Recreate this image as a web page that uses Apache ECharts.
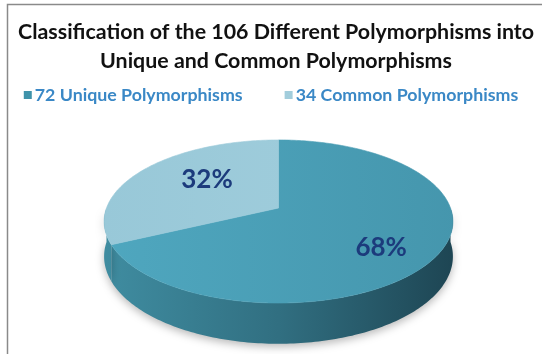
<!DOCTYPE html>
<html>
<head>
<meta charset="utf-8">
<title>Polymorphism classification</title>
<script src="https://cdn.jsdelivr.net/npm/echarts@6/dist/echarts.min.js"></script>
<style>
  html, body { margin: 0; padding: 0; background: #ffffff; }
  #chart { width: 542px; height: 354px; }
</style>
</head>
<body>
<div id="chart"></div>
<script>
// Polymorphism groups and how many of each were found
const categories = ['Unique Polymorphisms', 'Common Polymorphisms'];
const counts = [72, 34];

const total = counts.reduce((a, b) => a + b, 0);

// Tilted-disc projection used to draw the pie in 3D
const CX = 278.5, CY = 208;   // projected centre of the top face
const R = 172, B = 79.3;       // horizontal / depth radii
const D = 6.04;                // perspective distance (in radii)
const H = 34;                  // thickness of the disc

const topFill = [
  { type: 'linear', x: 100, y: 0, x2: 460, y2: 0, global: true,
    colorStops: [{ offset: 0, color: '#4fa7bf' }, { offset: 1, color: '#4596ad' }] },
  { type: 'linear', x: 100, y: 0, x2: 460, y2: 0, global: true,
    colorStops: [{ offset: 0, color: '#98c8d8' }, { offset: 1, color: '#a3cfdd' }] }
];
const sideFill = { type: 'linear', x: CX - R, y: 0, x2: CX + R, y2: 0, global: true,
  colorStops: [
    { offset: 0, color: '#3f8ca0' },
    { offset: 0.5, color: '#316f81' },
    { offset: 1, color: '#1e4654' }
  ] };
const legendColors = ['#3f93aa', '#a2cddc'];

function project(theta, depth, frac) {
  const f = frac === undefined ? 1 : frac;
  const u = Math.sin(theta) * f, w = -Math.cos(theta) * f;
  const s = D / (D - w);
  return [CX + R * u * s, CY + (B * w + depth) * s];
}

function arc(a0, a1, depth) {
  const pts = [];
  const n = Math.max(2, Math.ceil((a1 - a0) / (Math.PI / 180)));
  for (let i = 0; i <= n; i++) pts.push(project(a0 + (a1 - a0) * i / n, depth));
  return pts;
}

// cumulative start/end angles, clockwise from 12 o'clock
const angles = [];
let acc = 0;
counts.forEach(v => {
  const a0 = acc / total * Math.PI * 2;
  acc += v;
  angles.push([a0, acc / total * Math.PI * 2]);
});

function makeRender(idx) {
  return function () {
    const [a0, a1] = angles[idx];
    const children = [];
    // front wall (only the half facing the viewer)
    const s0 = Math.max(a0, Math.PI / 2), s1 = Math.min(a1, Math.PI * 1.5);
    if (s1 > s0) {
      const topEdge = arc(s0, s1, 0);
      const bottomEdge = arc(s0, s1, H).reverse();
      children.push({
        type: 'polygon', z2: 1,
        shape: { points: topEdge.concat(bottomEdge) },
        style: { fill: sideFill, shadowBlur: 8, shadowColor: 'rgba(0,0,0,0.28)', shadowOffsetY: 3 }
      });
    }
    // top face
    const face = [[CX, CY]].concat(arc(a0, a1, 0));
    children.push({
      type: 'polygon', z2: 10,
      shape: { points: face },
      style: { fill: topFill[idx], stroke: topFill[idx], lineWidth: 0.6 }
    });
    // percentage label
    const share = counts[idx] / total;
    const mid = (a0 + a1) / 2 + 8 * Math.PI / 180;
    const p = project(mid, 0, 0.45 + 0.4 * share);
    children.push({
      type: 'text', z2: 20,
      x: p[0], y: p[1],
      style: {
        text: Math.round(share * 100) + '%',
        fill: '#1c3b7c',
        font: 'bold 26px Lato',
        align: 'center',
        verticalAlign: 'middle'
      }
    });
    return { type: 'group', children };
  };
}

const chart = echarts.init(document.getElementById('chart'), null, { renderer: 'canvas' });

chart.setOption({
  backgroundColor: '#ffffff',
  animation: false,
  title: {
    text: 'Classification of the ' + total + ' Different Polymorphisms into\nUnique and Common Polymorphisms',
    left: 271,
    top: 13,
    textAlign: 'center',
    textStyle: {
      fontFamily: 'Lato',
      fontWeight: 'bold',
      fontSize: 21.4,
      lineHeight: 29,
      color: '#111111'
    }
  },
  legend: {
    top: 81,
    left: 'center',
    icon: 'rect',
    itemWidth: 8,
    itemHeight: 8,
    itemGap: 42,
    data: categories,
    formatter: name => counts[categories.indexOf(name)] + ' ' + name,
    textStyle: {
      fontFamily: 'Lato',
      fontWeight: 'bold',
      fontSize: 17.8,
      color: '#3a88c6',
      padding: [0, 0, 0, -2]
    }
  },
  graphic: [{
    type: 'rect',
    shape: { x: 7.5, y: 4.5, width: 700, height: 500 },
    style: { fill: 'none', stroke: '#8a8a8a', lineWidth: 1.5 },
    silent: true
  }],
  series: categories.map((name, i) => ({
    type: 'custom',
    name: name,
    coordinateSystem: 'none',
    itemStyle: { color: legendColors[i] },
    renderItem: makeRender(i),
    data: [[counts[i]]]
  }))
});
</script>
</body>
</html>
